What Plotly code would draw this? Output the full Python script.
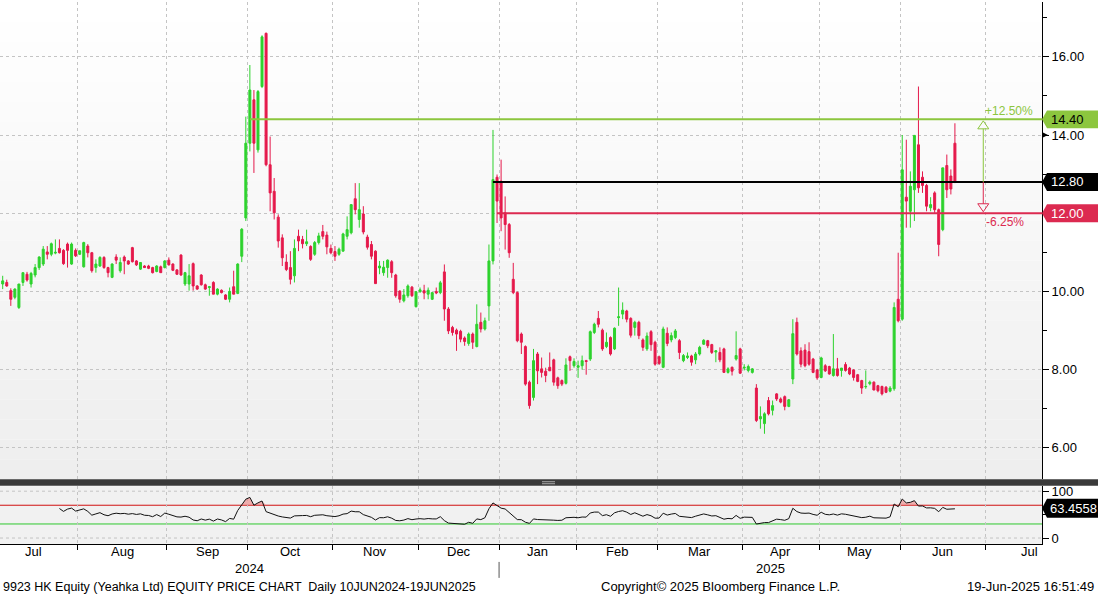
import numpy as np
import pandas as pd
import plotly.graph_objects as go

# ---------------- data ----------------
first_day = "2024-07-05"
last_day = "2025-06-19"
hk_holidays = ["2024-07-01", "2024-09-18", "2024-10-01", "2024-10-11", "2024-12-25",
               "2024-12-26", "2025-01-01", "2025-01-29", "2025-01-30", "2025-01-31",
               "2025-04-04", "2025-04-18", "2025-04-21", "2025-05-01", "2025-05-05",
               "2025-07-01"]

opens = [
    10.19, 10.23, 10.02, 9.85, 9.59, 10.23, 10.44, 10.19, 10.42, 10.61,
    10.70, 11.01, 10.95, 10.98, 11.10, 11.05, 11.21, 10.70, 11.05, 10.95,
    10.63, 11.16, 10.99, 10.61, 10.65, 10.87, 10.61, 10.36, 10.88, 10.53,
    10.88, 10.78, 11.12, 10.78, 10.57, 10.65, 10.65, 10.61, 10.51, 10.63,
    10.61, 10.80, 10.70, 10.55, 10.93, 10.19, 10.19, 10.71, 10.14, 10.42,
    10.17, 10.10, 10.23, 9.93, 10.03, 9.91, 9.80, 10.12, 9.95, 10.90,
    11.88, 13.79, 14.90, 13.62, 15.24, 16.60, 13.24, 12.56, 11.90, 11.37,
    10.75, 10.61, 10.40, 11.41, 11.33, 11.22, 11.15, 10.95, 11.25, 11.53,
    11.44, 11.10, 11.02, 10.95, 11.03, 11.41, 11.50, 12.37, 11.84, 11.98,
    11.39, 11.20, 11.03, 10.60, 10.48, 10.61, 10.76, 10.42, 10.01, 9.76,
    9.89, 10.11, 9.61, 10.00, 10.02, 9.93, 9.80, 10.00, 9.97, 10.50,
    9.55, 9.08, 9.01, 8.98, 8.81, 8.67, 8.91, 8.59, 9.21, 9.04,
    9.63, 10.78, 12.92, 12.82, 12.01, 11.71, 10.31, 9.97, 8.91, 8.59,
    7.68, 7.29, 8.40, 8.02, 7.96, 8.06, 8.25, 7.79, 7.72, 7.65,
    8.33, 8.10, 8.06, 8.10, 8.23, 8.27, 8.95, 9.31, 9.01, 8.59,
    8.82, 8.53, 9.33, 9.42, 9.50, 9.31, 9.08, 9.21, 8.76, 8.53,
    8.97, 8.70, 8.33, 8.06, 8.93, 8.76, 8.82, 8.74, 8.23, 8.31,
    8.35, 8.25, 8.40, 8.65, 8.74, 8.64, 8.45, 8.44, 8.53, 7.93,
    8.06, 8.27, 8.53, 8.04, 7.98, 7.93, 7.53, 6.74, 6.62, 7.21,
    6.96, 7.38, 7.25, 7.31, 7.06, 7.76, 9.21, 8.48, 8.50, 8.46,
    8.27, 7.99, 7.80, 8.10, 8.08, 7.85, 8.02, 7.98, 8.13, 8.04,
    7.99, 7.87, 7.72, 7.56, 7.64, 7.68, 7.59, 7.57, 7.55, 7.45,
    7.51, 9.80, 9.29, 12.41, 12.05, 12.60, 13.75, 12.92, 12.71, 12.14,
    12.52, 12.09, 11.58, 13.22, 12.95, 13.79,
]
highs = [
    10.40, 10.30, 10.08, 10.08, 10.19, 10.48, 10.50, 10.50, 10.70, 10.90,
    11.16, 11.16, 11.25, 11.33, 11.33, 11.08, 11.25, 11.25, 11.10, 11.04,
    11.27, 11.21, 11.01, 10.82, 10.90, 10.90, 10.63, 10.72, 10.95, 10.87,
    10.92, 10.80, 11.14, 10.80, 10.74, 10.67, 10.68, 10.63, 10.67, 10.66,
    10.80, 10.87, 10.72, 10.57, 10.95, 10.50, 10.70, 10.74, 10.16, 10.44,
    10.20, 10.14, 10.26, 10.08, 10.05, 9.93, 10.10, 10.53, 10.72, 11.62,
    14.47, 15.79, 15.15, 15.15, 16.55, 16.62, 13.96, 12.90, 11.97, 11.46,
    10.95, 11.03, 11.33, 11.58, 11.42, 11.58, 11.18, 11.29, 11.50, 11.70,
    11.53, 11.20, 11.16, 11.12, 11.50, 11.92, 12.22, 12.77, 12.77, 12.18,
    11.45, 11.29, 11.05, 10.78, 10.78, 10.82, 10.80, 10.45, 10.03, 10.06,
    10.18, 10.14, 10.01, 10.10, 10.17, 10.10, 9.97, 10.10, 10.27, 10.69,
    9.60, 9.12, 9.05, 9.02, 8.85, 8.95, 8.95, 9.67, 9.46, 9.33,
    11.20, 14.13, 12.99, 13.37, 12.43, 11.75, 10.73, 10.00, 8.95, 8.62,
    7.72, 8.53, 8.45, 8.31, 8.05, 8.44, 8.28, 7.82, 7.75, 8.29,
    8.36, 8.29, 8.23, 8.36, 8.25, 9.00, 9.20, 9.50, 9.05, 8.95,
    8.85, 9.08, 10.10, 9.72, 9.53, 9.34, 9.25, 9.25, 8.80, 8.95,
    9.01, 8.74, 8.36, 9.10, 9.08, 8.95, 9.04, 8.78, 8.40, 8.44,
    8.38, 8.45, 8.61, 8.78, 8.76, 8.66, 8.50, 8.57, 8.56, 8.06,
    8.08, 8.98, 8.56, 8.14, 8.13, 8.04, 7.63, 7.06, 6.91, 7.30,
    7.21, 7.40, 7.29, 7.34, 7.25, 9.29, 9.33, 8.57, 8.65, 8.70,
    8.30, 8.02, 8.33, 8.14, 8.10, 8.91, 8.30, 8.04, 8.19, 8.07,
    8.01, 7.89, 7.74, 7.98, 7.72, 7.70, 7.61, 7.59, 7.58, 7.58,
    9.72, 10.99, 14.00, 13.88, 13.07, 14.00, 15.24, 13.07, 12.75, 12.41,
    12.56, 12.12, 13.16, 13.50, 13.12, 14.30,
]
lows = [
    10.06, 10.12, 9.63, 9.80, 9.55, 10.14, 10.25, 10.10, 10.36, 10.55,
    10.65, 10.82, 10.90, 10.95, 10.97, 10.68, 10.61, 10.68, 10.88, 10.93,
    10.61, 10.87, 10.48, 10.48, 10.63, 10.58, 10.36, 10.34, 10.70, 10.48,
    10.44, 10.68, 10.74, 10.65, 10.55, 10.60, 10.57, 10.46, 10.49, 10.48,
    10.59, 10.66, 10.52, 10.42, 10.40, 10.14, 10.02, 10.02, 10.04, 10.15,
    10.04, 9.89, 9.93, 9.90, 9.95, 9.78, 9.72, 9.93, 9.93, 10.75,
    11.80, 13.58, 13.03, 13.55, 15.20, 13.20, 12.05, 11.84, 11.12, 10.65,
    10.52, 10.18, 10.23, 11.03, 11.10, 11.16, 10.78, 10.91, 11.20, 11.33,
    10.95, 10.95, 10.78, 10.91, 11.02, 11.33, 11.46, 11.97, 11.63, 11.46,
    11.07, 10.82, 10.20, 10.44, 10.40, 10.35, 10.35, 9.84, 9.71, 9.72,
    9.84, 9.86, 9.59, 9.96, 9.80, 9.80, 9.78, 9.93, 9.93, 9.25,
    8.91, 8.87, 8.48, 8.70, 8.61, 8.61, 8.53, 8.57, 8.95, 9.00,
    9.25, 10.69, 11.75, 11.54, 11.07, 10.86, 9.93, 8.70, 8.40, 7.59,
    7.00, 7.21, 7.63, 7.80, 7.68, 7.97, 7.59, 7.51, 7.58, 7.62,
    7.97, 8.05, 7.79, 8.00, 7.87, 8.22, 8.91, 9.08, 8.48, 8.55,
    8.36, 8.50, 9.12, 9.29, 9.21, 8.82, 8.87, 8.78, 8.48, 8.48,
    8.48, 8.10, 8.12, 8.04, 8.60, 8.70, 8.78, 8.27, 8.19, 8.27,
    8.10, 8.14, 8.36, 8.63, 8.55, 8.40, 8.19, 8.19, 7.93, 7.90,
    7.85, 8.23, 7.89, 7.98, 7.93, 7.90, 6.66, 6.49, 6.36, 6.83,
    6.83, 7.20, 7.14, 6.96, 7.04, 7.63, 8.36, 8.06, 8.06, 8.10,
    7.91, 7.74, 7.78, 7.94, 7.87, 7.82, 7.82, 7.82, 7.95, 7.86,
    7.72, 7.68, 7.38, 7.51, 7.60, 7.47, 7.42, 7.34, 7.40, 7.42,
    7.46, 9.21, 9.25, 11.63, 11.63, 11.80, 12.52, 12.52, 12.05, 12.05,
    12.01, 10.90, 11.54, 12.39, 12.48, 12.77,
]
closes = [
    10.27, 10.14, 9.80, 10.06, 10.19, 10.48, 10.29, 10.46, 10.61, 10.88,
    11.08, 10.95, 11.22, 11.00, 10.99, 10.71, 11.05, 11.21, 10.91, 11.04,
    11.25, 10.99, 10.53, 10.70, 10.87, 10.61, 10.48, 10.70, 10.80, 10.74,
    10.78, 10.70, 10.76, 10.68, 10.74, 10.61, 10.59, 10.48, 10.65, 10.48,
    10.78, 10.68, 10.54, 10.44, 10.42, 10.48, 10.40, 10.14, 10.06, 10.17,
    10.06, 10.12, 9.93, 10.06, 9.97, 9.80, 10.00, 9.93, 10.70, 11.59,
    13.79, 15.15, 13.79, 15.11, 16.51, 13.24, 12.52, 12.01, 11.29, 10.86,
    10.56, 10.31, 11.10, 11.29, 11.22, 11.27, 10.82, 11.25, 11.42, 11.41,
    11.14, 10.99, 10.90, 11.08, 11.47, 11.58, 12.22, 12.09, 12.09, 11.52,
    11.13, 10.90, 10.20, 10.65, 10.62, 10.80, 10.48, 9.89, 9.80, 9.91,
    10.14, 9.89, 9.99, 10.04, 9.96, 10.03, 9.97, 9.96, 10.22, 9.55,
    8.99, 8.95, 8.91, 8.78, 8.72, 8.91, 8.70, 9.16, 9.04, 9.25,
    10.78, 12.86, 12.31, 11.88, 11.71, 10.99, 9.97, 8.74, 8.70, 7.63,
    7.08, 8.23, 7.97, 7.93, 7.85, 7.97, 7.68, 7.59, 7.63, 8.12,
    8.23, 8.21, 8.10, 8.23, 8.21, 8.97, 9.16, 9.16, 8.53, 8.70,
    8.40, 9.06, 9.35, 9.52, 9.29, 8.88, 9.21, 8.87, 8.57, 8.86,
    8.64, 8.14, 8.16, 9.04, 8.67, 8.87, 8.99, 8.44, 8.36, 8.35,
    8.19, 8.40, 8.57, 8.75, 8.61, 8.44, 8.48, 8.25, 7.93, 8.02,
    7.96, 8.36, 7.91, 8.06, 8.08, 8.02, 6.70, 6.80, 6.87, 6.87,
    7.08, 7.25, 7.17, 7.06, 7.23, 8.92, 8.40, 8.14, 8.10, 8.14,
    7.93, 7.79, 8.30, 7.97, 7.89, 8.02, 7.85, 8.04, 7.98, 7.89,
    7.80, 7.70, 7.53, 7.57, 7.68, 7.48, 7.46, 7.38, 7.42, 7.53,
    9.59, 9.25, 13.11, 12.31, 12.69, 13.99, 12.65, 12.71, 12.18, 12.22,
    12.09, 11.20, 13.16, 12.60, 12.62, 12.80,
]

level_prices = [14.40, 12.80, 12.00]
level_start_dates = ["2024-10-02", "2024-12-30", "2024-12-31"]
marker_price = 14.00
rsi_period = 14
rsi_upper = 70
rsi_lower = 30
rsi_last = 63.4558
price_ticks = [6, 8, 10, 12, 14, 16]
price_minor_ticks = [7, 9, 11, 13, 15, 17]
rsi_ticks = [0, 50, 100]
rsi_tick_labels = ["0", "", "100"]   # "50" sits under the last-value box
footer_left = "9923 HK Equity (Yeahka Ltd) EQUITY PRICE CHART  Daily 10JUN2024-19JUN2025"
footer_mid = "Copyright\u00a9 2025 Bloomberg Finance L.P."
footer_right = "19-Jun-2025 16:51:49"

# ---------------- styles / geometry ----------------
UP = "#2dd22d"
DOWN = "#e5194b"
LEVEL_COLORS = ["#8cc63e", "#000000", "#dc2a50"]
LEVEL_TEXT = ["#000000", "#ffffff", "#ffffff"]
GRID = "#c4c4c4"
FONT = "Liberation Sans, Arial, sans-serif"

W, H = 1098, 596
PLOT_W, PLOT_H = 1042, 544
PX_PER_DAY = 4.052
FIRST_PX = 2.7
PRICE_BOTTOM_PX, RSI_TOP_PX = 479, 486
PRICE_PX_PER_UNIT = 39.25


def pxx(px):
    return px / PLOT_W


def pxy(py):
    return (PLOT_H - py) / PLOT_H


# ---------------- trading calendar ----------------
cal = pd.bdate_range("2024-07-01", "2025-08-29")
cal = cal[~cal.isin(pd.to_datetime(hk_holidays))]
origin = cal.get_loc(pd.Timestamp(first_day))
cal_pos = np.arange(len(cal)) - origin
mask = (cal >= pd.Timestamp(first_day)) & (cal <= pd.Timestamp(last_day))
xpos = cal_pos[mask]
assert len(xpos) == len(closes)


def pos_of(d):
    return float(cal_pos[cal.get_loc(pd.Timestamp(d))])


periods = cal.to_period("M")
bounds = {}
for i in range(len(cal)):
    if i == 0 or periods[i] != periods[i - 1]:
        bounds[periods[i]] = cal_pos[i] - 0.5
plist = sorted(bounds.keys())

x_range = [-FIRST_PX / PX_PER_DAY, (PLOT_W - FIRST_PX) / PX_PER_DAY]
grid_x = [bounds[p] for p in plist if x_range[0] < bounds[p] < x_range[1]]

# price axis mapping (14.00 at 133.5px)
y_range = [14 - (PRICE_BOTTOM_PX - 133.5) / PRICE_PX_PER_UNIT, 14 + 133.5 / PRICE_PX_PER_UNIT]
# rsi axis mapping (0 at 538px, 100 at 491px)
rsi_px = 0.47
rsi_range = [-(PLOT_H - 538) / rsi_px, 100 + (491 - RSI_TOP_PX) / rsi_px]

# ---------------- RSI ----------------
c = np.array(closes)
d = np.diff(c)
gain = np.clip(d, 0, None)
loss = np.clip(-d, 0, None)
rsi = np.full(len(c), np.nan)
ag = gain[:rsi_period].mean()
al = loss[:rsi_period].mean()
rsi[rsi_period] = 100 - 100 / (1 + ag / al) if al > 0 else 100
for i in range(rsi_period + 1, len(c)):
    ag = (ag * (rsi_period - 1) + gain[i - 1]) / rsi_period
    al = (al * (rsi_period - 1) + loss[i - 1]) / rsi_period
    rsi[i] = 100 - 100 / (1 + ag / al) if al > 0 else 100
valid = ~np.isnan(rsi)
rx = xpos[valid]
rv = rsi[valid]

# ---------------- figure ----------------
fig = go.Figure()
fig.add_trace(go.Candlestick(
    x=xpos, open=opens, high=highs, low=lows, close=closes,
    increasing=dict(line=dict(color=UP, width=1), fillcolor=UP),
    decreasing=dict(line=dict(color=DOWN, width=1), fillcolor=DOWN),
    whiskerwidth=0, xaxis="x", yaxis="y", hoverinfo="skip", showlegend=False,
))
common = dict(xaxis="x2", yaxis="y2", mode="lines", hoverinfo="skip", showlegend=False)
fig.add_trace(go.Scatter(x=rx, y=np.full(len(rx), rsi_upper), line=dict(width=0), **common))
fig.add_trace(go.Scatter(x=rx, y=np.maximum(rv, rsi_upper), fill="tonexty",
                         fillcolor="rgba(236,130,130,0.6)", line=dict(width=0), **common))
fig.add_trace(go.Scatter(x=rx, y=np.full(len(rx), rsi_lower), line=dict(width=0), **common))
fig.add_trace(go.Scatter(x=rx, y=np.minimum(rv, rsi_lower), fill="tonexty",
                         fillcolor="rgba(120,215,120,0.6)", line=dict(width=0), **common))
fig.add_trace(go.Scatter(x=rx, y=rv, line=dict(color="#111111", width=1), **common))

shapes = []
# price pane background gradient
nb = 24
for k in range(nb):
    t0 = PRICE_BOTTOM_PX * k / nb
    t1 = PRICE_BOTTOM_PX * (k + 1) / nb
    g = int(round(255 - 17 * (k + 0.5) / nb))
    shapes.append(dict(type="rect", xref="paper", yref="paper", x0=0, x1=1,
                       y0=pxy(t1), y1=pxy(t0), fillcolor=f"rgb({g},{g},{g})",
                       line=dict(width=0), layer="below"))
# rsi pane background
shapes.append(dict(type="rect", xref="paper", yref="paper", x0=0, x1=1,
                   y0=0, y1=pxy(RSI_TOP_PX), fillcolor="#f1f1f1",
                   line=dict(width=0), layer="below"))
# rsi gridlines at 0 / 100
for v in (0, 100):
    shapes.append(dict(type="line", xref="paper", yref="y2", x0=0, x1=1, y0=v, y1=v,
                       line=dict(color=GRID, width=1, dash="dot"), layer="below"))
# rsi thresholds
shapes.append(dict(type="line", xref="paper", yref="y2", x0=0, x1=1, y0=rsi_upper,
                   y1=rsi_upper, line=dict(color="#d01010", width=1), layer="below"))
shapes.append(dict(type="line", xref="paper", yref="y2", x0=0, x1=1, y0=rsi_lower,
                   y1=rsi_lower, line=dict(color="#2ec82e", width=1), layer="below"))
# pane separator bar + handle
shapes.append(dict(type="rect", xref="paper", yref="paper", x0=0, x1=W / PLOT_W,
                   y0=pxy(RSI_TOP_PX - 0.5), y1=pxy(PRICE_BOTTOM_PX), fillcolor="#3a3a3a",
                   line=dict(width=0), layer="above"))
for hy in (481.5, 483.5):
    shapes.append(dict(type="line", xref="paper", yref="paper", x0=pxx(542), x1=pxx(555),
                       y0=pxy(hy), y1=pxy(hy), line=dict(color="#a8a8a8", width=1),
                       layer="above"))

# level lines
for lv, sd, col in zip(level_prices, level_start_dates, LEVEL_COLORS):
    shapes.append(dict(type="line", xref="x", yref="y", x0=pos_of(sd), x1=x_range[1],
                       y0=lv, y1=lv, line=dict(color=col, width=2), layer="above"))

# small pointer on the 14.00 tick
mh = 3 / PRICE_PX_PER_UNIT
shapes.append(dict(type="path", xref="paper", yref="y",
                   path=(f"M {pxx(1042)},{marker_price + mh} L {pxx(1048)},{marker_price} "
                         f"L {pxx(1042)},{marker_price - mh} Z"),
                   fillcolor="black", line=dict(width=0), layer="above"))

# right-side value boxes
tip, shoulder, right_end = 1.0, pxx(1047), W / PLOT_W
annotations = []
bh = 9 / PRICE_PX_PER_UNIT
for lv, col, tcol in zip(level_prices, LEVEL_COLORS, LEVEL_TEXT):
    path = (f"M {tip},{lv} L {shoulder},{lv + bh} L {right_end},{lv + bh} "
            f"L {right_end},{lv - bh} L {shoulder},{lv - bh} Z")
    shapes.append(dict(type="path", xref="paper", yref="y", path=path,
                       fillcolor=col, line=dict(width=0), layer="above"))
    annotations.append(dict(xref="paper", yref="y", x=pxx(1049), y=lv, text=f"{lv:.2f}",
                            xanchor="left", yanchor="middle", showarrow=False,
                            font=dict(family=FONT, size=13, color=tcol)))
rbh = 9.5 / rsi_px
path = (f"M {tip},{rsi_last} L {shoulder},{rsi_last + rbh} L {right_end},{rsi_last + rbh} "
        f"L {right_end},{rsi_last - rbh} L {shoulder},{rsi_last - rbh} Z")
shapes.append(dict(type="path", xref="paper", yref="y2", path=path, fillcolor="#000000",
                   line=dict(width=0), layer="above"))
annotations.append(dict(xref="paper", yref="y2", x=pxx(1048), y=rsi_last, text=f"{rsi_last:.4f}",
                        xanchor="left", yanchor="middle", showarrow=False,
                        font=dict(family=FONT, size=13, color="white")))

# target / stop arrow
cur, up_lv, dn_lv = level_prices[1], level_prices[0], level_prices[2]
ax = xpos[-1] + 7
hw = 5.5 / PX_PER_DAY
th = 8 / PRICE_PX_PER_UNIT
gap = 1.5 / PRICE_PX_PER_UNIT
up_apex, up_base = up_lv - gap, up_lv - gap - th
dn_apex, dn_base = dn_lv + gap, dn_lv + gap + th
shapes.append(dict(type="line", xref="x", yref="y", x0=ax, x1=ax, y0=cur, y1=up_base,
                   line=dict(color=LEVEL_COLORS[0], width=1), layer="above"))
shapes.append(dict(type="line", xref="x", yref="y", x0=ax, x1=ax, y0=cur, y1=dn_base,
                   line=dict(color=LEVEL_COLORS[2], width=1), layer="above"))
shapes.append(dict(type="path", xref="x", yref="y",
                   path=f"M {ax - hw},{up_base} L {ax + hw},{up_base} L {ax},{up_apex} Z",
                   line=dict(color=LEVEL_COLORS[0], width=1), fillcolor="rgba(0,0,0,0)",
                   layer="above"))
shapes.append(dict(type="path", xref="x", yref="y",
                   path=f"M {ax - hw},{dn_base} L {ax + hw},{dn_base} L {ax},{dn_apex} Z",
                   line=dict(color=LEVEL_COLORS[2], width=1), fillcolor="rgba(0,0,0,0)",
                   layer="above"))
up_pct = (up_lv / cur - 1) * 100
dn_pct = (dn_lv / cur - 1) * 100
annotations.append(dict(xref="x", yref="y", x=ax, y=up_lv, text=f"{up_pct:+.2f}%",
                        xanchor="left", yanchor="bottom", xshift=0, yshift=-1, showarrow=False,
                        font=dict(family=FONT, size=12, color=LEVEL_COLORS[0])))
annotations.append(dict(xref="x", yref="y", x=ax, y=dn_lv, text=f"{dn_pct:+.2f}%",
                        xanchor="left", yanchor="top", xshift=1, yshift=0, showarrow=False,
                        font=dict(family=FONT, size=12, color=LEVEL_COLORS[2])))

# month labels
for p0, p1 in zip(plist[:-1], plist[1:]):
    mid = (bounds[p0] + bounds[p1]) / 2
    if x_range[0] - 5 < mid < x_range[1]:
        annotations.append(dict(xref="x2", yref="paper", x=mid, y=pxy(552),
                                text=p0.strftime("%b"), showarrow=False,
                                xanchor="center", yanchor="middle",
                                font=dict(family=FONT, size=13, color="black")))
# year labels + separator
jan = bounds[pd.Period("2025-01", "M")]
annotations.append(dict(xref="x2", yref="paper", x=(x_range[0] + jan) / 2, y=pxy(569),
                        text="2024", showarrow=False, xanchor="center", yanchor="middle",
                        font=dict(family=FONT, size=13, color="black")))
annotations.append(dict(xref="x2", yref="paper", x=(jan + x_range[1]) / 2, y=pxy(569),
                        text="2025", showarrow=False, xanchor="center", yanchor="middle",
                        font=dict(family=FONT, size=13, color="black")))
shapes.append(dict(type="line", xref="x2", yref="paper", x0=jan, x1=jan,
                   y0=pxy(562), y1=pxy(578), line=dict(color="#555555", width=1)))
# footer
for txt, xx, anc, fs in ((footer_left, pxx(1), "left", 12.5),
                         (footer_mid, pxx(720), "center", 13),
                         (footer_right, pxx(1096), "right", 13)):
    annotations.append(dict(xref="paper", yref="paper", x=xx, y=pxy(587), text=txt,
                            showarrow=False, xanchor=anc, yanchor="middle",
                            font=dict(family=FONT, size=fs, color="black")))

fig.update_layout(
    width=W, height=H,
    margin=dict(l=0, r=W - PLOT_W, t=0, b=H - PLOT_H, pad=0),
    paper_bgcolor="white", plot_bgcolor="rgba(0,0,0,0)",
    showlegend=False,
    font=dict(family=FONT, size=13, color="black"),
    shapes=shapes, annotations=annotations,
    xaxis=dict(domain=[0, 1], anchor="y", range=x_range, tickmode="array", tickvals=grid_x,
               showticklabels=False, ticks="", showgrid=True, gridcolor=GRID, griddash="dot",
               gridwidth=1, zeroline=False, showline=False, rangeslider=dict(visible=False)),
    xaxis2=dict(domain=[0, 1], anchor="y2", matches="x", range=x_range, tickmode="array",
                tickvals=grid_x, ticktext=[""] * len(grid_x), ticks="outside", ticklen=5,
                tickcolor="black", showgrid=True, gridcolor=GRID, griddash="dot",
                zeroline=False, showline=True, linecolor="black", linewidth=1),
    yaxis=dict(domain=[pxy(PRICE_BOTTOM_PX), 1], anchor="x", side="right", range=y_range,
               tickmode="array", tickvals=price_ticks, tickformat=".2f", ticks="outside",
               ticklen=6, tickcolor="black", showline=True, linecolor="black", linewidth=1,
               showgrid=True, gridcolor=GRID, griddash="dot", zeroline=False,
               tickfont=dict(family=FONT, size=13, color="black"),
               minor=dict(tickmode="array", tickvals=price_minor_ticks, ticks="outside",
                          ticklen=4, tickcolor="black", showgrid=False)),
    yaxis2=dict(domain=[0, pxy(RSI_TOP_PX)], anchor="x2", side="right", range=rsi_range,
                tickmode="array", tickvals=rsi_ticks, ticktext=rsi_tick_labels,
                ticks="outside", ticklen=6,
                tickcolor="black", showline=True, linecolor="black", linewidth=1,
                showgrid=False, zeroline=False,
                tickfont=dict(family=FONT, size=13, color="black")),
)

fig.write_html("out.html", include_plotlyjs=True, config={"displayModeBar": False},
               post_script="document.body.style.margin='0';document.body.style.overflow='hidden';")
